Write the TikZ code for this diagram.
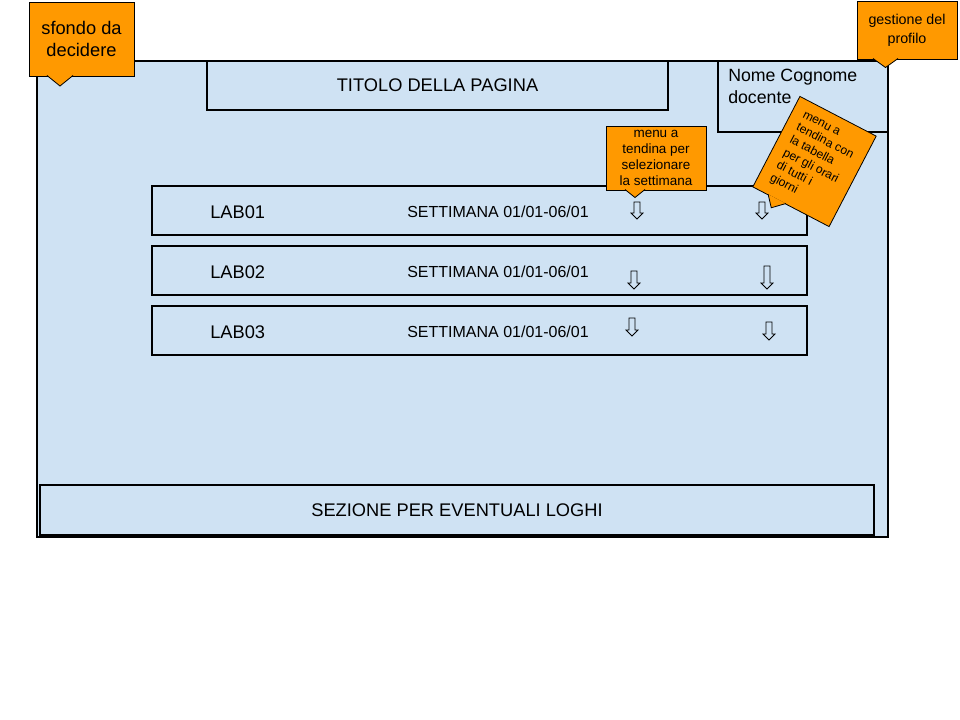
\documentclass[tikz,border=0pt]{standalone}
\usepackage{fontspec}
\setmainfont{Liberation Sans}
\usetikzlibrary{positioning}
\newlength{\pxu}
\setlength{\pxu}{0.75pt}
\definecolor{paleblue}{HTML}{CFE2F3}
\definecolor{noteorange}{HTML}{FF9900}
\newcommand{\droparrow}[3]{%
  \draw[arrowline] (#1-3,#2) -- (#1+3,#2) -- (#1+3,#3-6) -- (#1+6,#3-6)
    -- (#1,#3) -- (#1-6,#3-6) -- (#1-3,#3-6) -- cycle;}
\begin{document}
\begin{tikzpicture}[x=\pxu, y=-\pxu,
    panel/.style={draw, fill=paleblue, line width=0.8pt, inner sep=0, outer sep=0},
    note/.style={draw, fill=noteorange, line width=0.6pt, inner sep=0, outer sep=0, align=center},
    notetip/.style={draw, fill=noteorange, line width=0.6pt, line join=miter},
    bigtext/.style={font=\fontsize{13.7}{16.5}\selectfont},
    label/.style={bigtext, anchor=west, inner sep=0, text depth=0pt},
    weektext/.style={font=\fontsize{12}{14}\selectfont, anchor=west, inner sep=0, text depth=0pt},
    arrowline/.style={draw, line width=0.6pt, line join=miter}
  ]
  \useasboundingbox (0,0) rectangle (960,720);
  % page
  \node[panel, minimum width=851\pxu, minimum height=476\pxu] (page) at (462.5,299) {};
  \node[panel, bigtext, minimum width=461\pxu, minimum height=49\pxu] (title) at (437.5,85.5) {TITOLO DELLA PAGINA};
  \node[panel, minimum width=170\pxu, minimum height=71\pxu] (name) at (803,96.5) {};
  \node[label, font=\fontsize{13.3}{16.5}\selectfont, align=left] (teacher) at (728,86) {Nome Cognome\\docente};

  % one row per lab
  \foreach \n/\y in {1/210.5, 2/270.5, 3/330.5} {
    \node[panel, minimum width=655\pxu, minimum height=49\pxu] (row\n) at (479.5,\y) {};
    \node[label] (lab\n) at (210,\y+1.5) {LAB0\n};
    \node[weektext] (week\n) at (407,\y+1.5) {SETTIMANA 01/01-06/01};
  }
  \droparrow{637}{202}{219}
  \droparrow{762}{202}{219}
  \droparrow{634}{271}{289}
  \droparrow{767}{266}{289}
  \droparrow{632}{318}{336}
  \droparrow{769}{322}{340}

  \node[panel, bigtext, minimum width=834\pxu, minimum height=50\pxu] (logos) at (457,510) {SEZIONE PER EVENTUALI LOGHI};

  % notes
  \node[note, font=\fontsize{13.7}{16.5}\selectfont, minimum width=105\pxu, minimum height=74\pxu] (sfondo) at (81.5,39) {sfondo da\\decidere};
  \draw[notetip] (47,75.5) -- (60,86) -- (73,75.5);

  \node[note, font=\fontsize{10.7}{14.2}\selectfont, minimum width=100\pxu, minimum height=58\pxu] (profilo) at (907,30) {gestione del\\profilo};
  \draw[notetip] (873,58.5) -- (885.5,67.5) -- (898,58.5);

  \node[note, font=\fontsize{10.1}{12}\selectfont, minimum width=100\pxu, minimum height=64\pxu] (settimana) at (656,158) {menu a\\tendina per\\selezionare\\la settimana};
  \draw[notetip] (625,189.5) -- (635,197.5) -- (645,189.5);

  \begin{scope}[shift={(814.5,161.5)}, rotate=-27.5]
    \node[note, transform shape, align=left, font=\fontsize{9.1}{10.7}\selectfont, minimum width=86\pxu, minimum height=102\pxu] (orari) at (0,0) {menu a\\tendina con\\la tabella\\per gli orari\\di tutti i\\giorni};
    \draw[notetip] (-26,50.5) -- (-17,61) -- (-6,50.5);
  \end{scope}
\end{tikzpicture}
\end{document}
